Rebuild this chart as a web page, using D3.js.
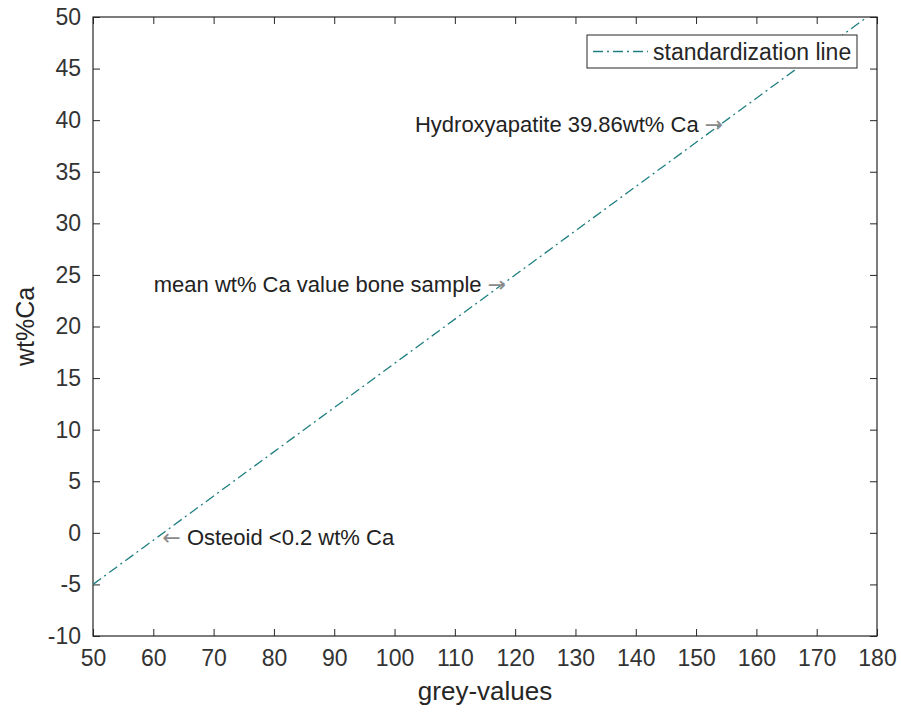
<!DOCTYPE html>
<html>
<head>
<meta charset="utf-8">
<script src="https://cdn.jsdelivr.net/npm/d3@7"></script>
<style>
  html, body { margin: 0; padding: 0; background: #fff; }
  svg { display: block; font-family: "Liberation Sans", Arial, Helvetica, sans-serif; }
</style>
</head>
<body>
<svg id="chart" width="901" height="716"></svg>
<script>
// Calibration line: grey-value -> wt% Ca
const greyValues = [50, 180];
const wtCa = [-5, 50.7];

// Tick labels
const xTicks = [50, 60, 70, 80, 90, 100, 110, 120, 130, 140, 150, 160, 170, 180];
const yTicks = [-10, -5, 0, 5, 10, 15, 20, 25, 30, 35, 40, 45, 50];

// Text annotations (grey-value, wt% Ca, label, arrow side)
const noteLabels = ["Hydroxyapatite 39.86wt% Ca", "mean wt% Ca value bone sample", "Osteoid <0.2 wt% Ca"];
const noteGrey = [154.5, 118.5, 61.5];
const noteWt = [39.6, 24.1, -0.4];
const noteArrow = ["right", "right", "left"];

const legendLabel = "standardization line";

const svg = d3.select("#chart");
const margin = { left: 93, right: 24, top: 17, bottom: 80 };
const W = 901, H = 716;
const x = d3.scaleLinear().domain([50, 180]).range([margin.left, W - margin.right]);
const y = d3.scaleLinear().domain([-10, 50]).range([H - margin.bottom, margin.top]);

const axisColor = "#262626";
const lineColor = "#1f7f80";

svg.append("defs").append("clipPath").attr("id", "plot-clip")
  .append("rect")
  .attr("x", x(50)).attr("y", y(50))
  .attr("width", x(180) - x(50)).attr("height", y(-10) - y(50));

// Axes with inward ticks on all four sides
const tickLen = 7;
const fmt = d => String(d);
function styleAxis(g) {
  g.select(".domain").remove();
  g.selectAll(".tick line").attr("stroke", axisColor).attr("stroke-width", 1);
  g.selectAll(".tick text").attr("fill", "#333").style("font-size", "23px");
}
svg.append("g").attr("transform", `translate(0,${y(-10)})`)
  .call(d3.axisBottom(x).tickValues(xTicks).tickFormat(fmt).tickSizeInner(-tickLen).tickSizeOuter(0).tickPadding(14))
  .call(styleAxis);
svg.append("g").attr("transform", `translate(0,${y(50)})`)
  .call(d3.axisTop(x).tickValues(xTicks).tickFormat("").tickSizeInner(-tickLen).tickSizeOuter(0))
  .call(styleAxis);
svg.append("g").attr("transform", `translate(${x(50)},0)`)
  .call(d3.axisLeft(y).tickValues(yTicks).tickFormat(fmt).tickSizeInner(-tickLen).tickSizeOuter(0).tickPadding(12))
  .call(styleAxis);
svg.append("g").attr("transform", `translate(${x(180)},0)`)
  .call(d3.axisRight(y).tickValues(yTicks).tickFormat("").tickSizeInner(-tickLen).tickSizeOuter(0))
  .call(styleAxis);

// Box
svg.append("rect")
  .attr("x", x(50)).attr("y", y(50))
  .attr("width", x(180) - x(50)).attr("height", y(-10) - y(50))
  .attr("fill", "none").attr("stroke", axisColor).attr("stroke-width", 1.2);

// Calibration line (dash-dot)
const pts = greyValues.map((g, i) => [g, wtCa[i]]);
svg.append("path")
  .datum(pts)
  .attr("clip-path", "url(#plot-clip)")
  .attr("fill", "none")
  .attr("stroke", lineColor)
  .attr("stroke-width", 1.3)
  .attr("stroke-dasharray", "10,4,2,4")
  .attr("d", d3.line().x(d => x(d[0])).y(d => y(d[1])));

// Annotations
noteLabels.forEach((label, i) => {
  const t = svg.append("text")
    .attr("x", x(noteGrey[i]))
    .attr("y", y(noteWt[i]))
    .attr("dominant-baseline", "central")
    .attr("fill", "#222")
    .style("font-size", "22px");
  if (noteArrow[i] === "right") {
    t.attr("text-anchor", "end");
    t.append("tspan").text(label + " ");
    t.append("tspan").attr("fill", "#8a8a8a").style("font-size", "22px")
      .style("font-family", "'DejaVu Sans', sans-serif").text("\u2192");
  } else {
    t.attr("text-anchor", "start");
    t.append("tspan").attr("fill", "#8a8a8a").style("font-size", "22px")
      .style("font-family", "'DejaVu Sans', sans-serif").text("\u2190");
    t.append("tspan").text(" " + label);
  }
});

// Legend
const lg = svg.append("g");
lg.append("rect")
  .attr("x", 587).attr("y", 35).attr("width", 270).attr("height", 33)
  .attr("fill", "#fff").attr("stroke", axisColor).attr("stroke-width", 1);
lg.append("line")
  .attr("x1", 593).attr("x2", 648).attr("y1", 51.5).attr("y2", 51.5)
  .attr("stroke", lineColor).attr("stroke-width", 1.3)
  .attr("stroke-dasharray", "10,4,2,4");
lg.append("text")
  .attr("x", 653).attr("y", 51.5)
  .attr("dominant-baseline", "central")
  .attr("fill", axisColor)
  .style("font-size", "23px")
  .text(legendLabel);

// Axis titles
svg.append("text")
  .attr("x", (x(50) + x(180)) / 2).attr("y", 700)
  .attr("text-anchor", "middle")
  .attr("fill", axisColor)
  .style("font-size", "26px")
  .text("grey-values");
svg.append("text")
  .attr("transform", `translate(34,${(y(-10) + y(50)) / 2}) rotate(-90)`)
  .attr("text-anchor", "middle")
  .attr("fill", axisColor)
  .style("font-size", "25px")
  .text("wt%Ca");
</script>
</body>
</html>
